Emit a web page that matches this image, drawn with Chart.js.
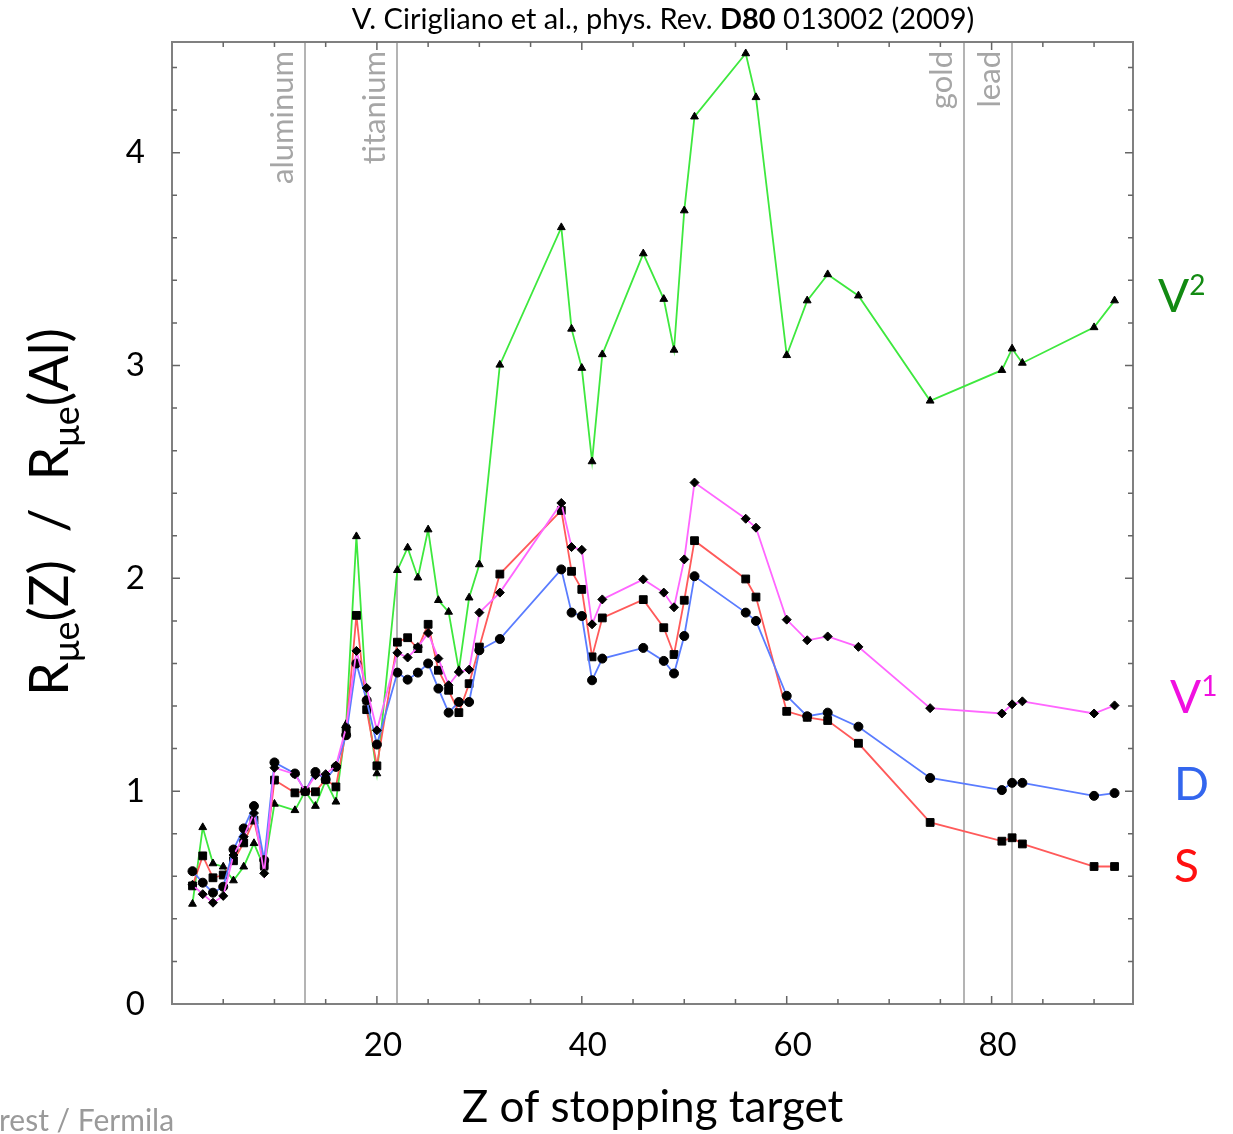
<!DOCTYPE html>
<html lang="en">
<head>
<meta charset="UTF-8">
<title>R_mue(Z) / R_mue(Al)</title>
<script src="https://cdn.jsdelivr.net/npm/chart.js"></script>
<style>
  body { margin: 0; background: #fff; }
  canvas { display: block; }
</style>
</head>
<body>
<canvas id="chart" width="1233" height="1134"></canvas>
<script>
// atomic number of each stopping target
const Z = [2, 3, 4, 5, 6, 7, 8, 9, 10, 12, 13, 14, 15, 16, 17, 18, 19, 20, 22, 23, 24, 25, 26, 27, 28, 29, 30, 32,
           38, 39, 40, 41, 42, 46, 48, 49, 50, 51, 56, 57, 60, 62, 64, 67, 74, 81, 82, 83, 90, 92];

// conversion rate ratio R(Z)/R(Al) for each operator model
const V2 = [0.47, 0.83, 0.66, 0.645, 0.58, 0.645, 0.755, 0.64, 0.94, 0.91, 1.0, 0.93, 1.05, 0.95, 1.315, 2.197, 1.42, 1.083,
            2.038, 2.144, 2.003, 2.229, 1.897, 1.842, 1.568, 1.909, 2.065, 3.003,
            3.649, 3.172, 2.988, 2.549, 3.052, 3.526, 3.312, 3.073, 3.728, 4.169, 4.466, 4.26, 3.048, 3.305, 3.428, 3.328,
            2.834, 2.978, 3.079, 3.012, 3.179, 3.305];
const V1 = [0.56, 0.516, 0.476, 0.508, 0.70, 0.786, 0.897, 0.614, 1.11, 1.08, 1.0, 1.075, 1.08, 1.12, 1.30, 1.659, 1.485, 1.286,
            1.65, 1.628, 1.677, 1.743, 1.623, 1.498, 1.56, 1.571, 1.839, 1.933,
            2.354, 2.147, 2.134, 1.784, 1.901, 1.995, 1.933, 1.864, 2.089, 2.45, 2.28, 2.238, 1.806, 1.709, 1.727, 1.678,
            1.39, 1.365, 1.408, 1.422, 1.365, 1.403];
const D  = [0.624, 0.57, 0.523, 0.551, 0.726, 0.825, 0.93, 0.676, 1.135, 1.083, 1.0, 1.09, 1.055, 1.114, 1.263, 1.60, 1.427, 1.219,
            1.557, 1.524, 1.557, 1.60, 1.482, 1.369, 1.419, 1.419, 1.662, 1.715,
            2.042, 1.839, 1.823, 1.521, 1.623, 1.673, 1.612, 1.553, 1.729, 2.01, 1.839, 1.80, 1.448, 1.352, 1.369, 1.303,
            1.062, 1.005, 1.039, 1.039, 0.978, 0.991];
const S  = [0.555, 0.696, 0.593, 0.606, 0.673, 0.757, 0.864, 0.653, 1.052, 0.992, 1.0, 0.997, 1.056, 1.02, 1.286, 1.826, 1.383, 1.119,
            1.70, 1.721, 1.67, 1.784, 1.568, 1.474, 1.369, 1.505, 1.677, 2.02,
            2.319, 2.033, 1.948, 1.631, 1.814, 1.90, 1.768, 1.642, 1.897, 2.177, 1.997, 1.912, 1.375, 1.347, 1.332, 1.225,
            0.853, 0.765, 0.781, 0.752, 0.646, 0.646];

const xTicks = [20, 40, 60, 80];
const yTicks = [0, 1, 2, 3, 4];

// reference targets marked with vertical lines
const targetNames = ['aluminum', 'titanium', 'gold', 'lead'];
const targetZ = [13, 22, 77.3, 82];

const FONT = 'Lato, "Open Sans", sans-serif';

function series(values) {
  return values.map((v, i) => ({ x: Z[i], y: v }));
}

function line(label, values, color, style, radius) {
  return {
    label,
    data: series(values),
    borderColor: color,
    borderWidth: 1.8,
    pointStyle: style,
    pointRadius: radius,
    pointBackgroundColor: '#000',
    pointBorderColor: '#000',
    pointBorderWidth: 1,
    tension: 0
  };
}

// text runs with sub/superscripts, laid out along one baseline
function richWidth(ctx, parts) {
  let w = 0;
  parts.forEach(p => {
    ctx.font = (p.bold ? 'bold ' : '') + p.size + 'px ' + FONT;
    w += ctx.measureText(p.t).width;
  });
  return w;
}
function drawRich(ctx, parts, x, y) {
  parts.forEach(p => {
    ctx.font = (p.bold ? 'bold ' : '') + p.size + 'px ' + FONT;
    ctx.fillText(p.t, x, y + (p.dy || 0));
    x += ctx.measureText(p.t).width;
  });
}

const decor = {
  id: 'decor',
  beforeDatasetsDraw(chart) {
    const { ctx, chartArea: a, scales: { x } } = chart;
    ctx.save();
    ctx.strokeStyle = '#b4b4b4';
    ctx.lineWidth = 2;
    ctx.fillStyle = '#a6a6a6';
    ctx.font = '31px ' + FONT;
    ctx.textAlign = 'right';
    ctx.textBaseline = 'alphabetic';
    targetNames.forEach((name, i) => {
      const px = Math.round(x.getPixelForValue(targetZ[i]));
      ctx.beginPath();
      ctx.moveTo(px, a.top);
      ctx.lineTo(px, a.bottom);
      ctx.stroke();
      ctx.save();
      ctx.translate(px - 12, a.top + 9);
      ctx.rotate(-Math.PI / 2);
      ctx.fillText(name, 0, 0);
      ctx.restore();
    });
    ctx.restore();
  },
  afterDraw(chart) {
    const { ctx, chartArea: a, scales: { x, y } } = chart;
    ctx.save();

    // frame
    ctx.strokeStyle = '#808080';
    ctx.lineWidth = 2;
    ctx.strokeRect(a.left, a.top, a.right - a.left, a.bottom - a.top);

    // inward tick marks on all four sides
    ctx.strokeStyle = '#666';
    ctx.lineWidth = 1.5;
    ctx.beginPath();
    for (let v = 5; v < x.max; v += 5) {
      const px = x.getPixelForValue(v);
      const len = v % 20 === 0 ? 8 : 5;
      ctx.moveTo(px, a.bottom); ctx.lineTo(px, a.bottom - len);
      ctx.moveTo(px, a.top); ctx.lineTo(px, a.top + len);
    }
    for (let k = 1; k * 0.2 < y.max; k++) {
      const py = y.getPixelForValue(k * 0.2);
      const len = k % 5 === 0 ? 8 : 5;
      ctx.moveTo(a.left, py); ctx.lineTo(a.left + len, py);
      ctx.moveTo(a.right, py); ctx.lineTo(a.right - len, py);
    }
    ctx.stroke();

    // citation above the plot
    ctx.fillStyle = '#000';
    ctx.textBaseline = 'alphabetic';
    ctx.textAlign = 'left';
    const cite = [
      { t: 'V. Cirigliano et al., phys. Rev. ', size: 29 },
      { t: 'D80', size: 29, bold: true },
      { t: ' 013002 (2009)', size: 29 }
    ];
    drawRich(ctx, cite, 663 - richWidth(ctx, cite) / 2, 29);

    // vertical axis title with subscripts
    const yTitle = [
      { t: 'R', size: 54 }, { t: 'μe', size: 36, dy: 11 }, { t: '(Z)  /  R', size: 54 },
      { t: 'μe', size: 36, dy: 11 }, { t: '(Al)', size: 54 }
    ];
    ctx.save();
    ctx.translate(68, 512);
    ctx.rotate(-Math.PI / 2);
    drawRich(ctx, yTitle, -richWidth(ctx, yTitle) / 2, 0);
    ctx.restore();

    // model names at the right edge
    const names = [
      { parts: [{ t: 'V', size: 46 }, { t: '2', size: 28, dy: -17 }], color: '#128a12', x: 1158, y: 312 },
      { parts: [{ t: 'V', size: 46 }, { t: '1', size: 28, dy: -17 }], color: '#f010e0', x: 1170, y: 713 },
      { parts: [{ t: 'D', size: 46 }], color: '#3366ee', x: 1174, y: 800 },
      { parts: [{ t: 'S', size: 46 }], color: '#ff1010', x: 1174, y: 882 }
    ];
    names.forEach(n => {
      ctx.fillStyle = n.color;
      drawRich(ctx, n.parts, n.x, n.y);
    });

    // slide footer, clipped at the left edge
    ctx.fillStyle = '#9a9a9a';
    ctx.font = '30px ' + FONT;
    ctx.fillText('rest / Fermila', -1, 1131);

    ctx.restore();
  }
};

const ctx = document.getElementById('chart').getContext('2d');

new Chart(ctx, {
  type: 'line',
  data: {
    datasets: [
      line('V1', V1, '#ff66ff', 'rectRot', 4.5),
      line('D', D, '#5a7cff', 'circle', 4.5),
      line('S', S, '#ff5a5a', 'rect', 5.5),
      line('V2', V2, '#3ee83e', 'triangle', 4.5)
    ]
  },
  options: {
    responsive: false,
    animation: false,
    layout: { padding: { left: 0, right: 100, top: 42, bottom: 0 } },
    plugins: {
      legend: { display: false },
      tooltip: { enabled: false }
    },
    scales: {
      x: {
        type: 'linear',
        min: 0,
        max: 93.8,
        grid: { display: false, drawTicks: false },
        border: { display: false },
        afterBuildTicks: s => { s.ticks = xTicks.map(v => ({ value: v })); },
        afterFit: s => { s.height = 130; s.paddingLeft = 0; s.paddingRight = 0; },
        ticks: {
          font: { family: FONT, size: 33 },
          color: '#000',
          padding: 22,
          labelOffset: 6,
          maxRotation: 0,
          autoSkip: false
        },
        title: {
          display: true,
          text: 'Z of stopping target',
          font: { family: FONT, size: 44 },
          color: '#000',
          padding: { top: 0, bottom: 0 }
        }
      },
      y: {
        type: 'linear',
        min: 0,
        max: 4.52,
        grid: { display: false, drawTicks: false },
        border: { display: false },
        afterBuildTicks: s => { s.ticks = yTicks.map(v => ({ value: v })); },
        afterFit: s => { s.width = 172; s.paddingTop = 0; s.paddingBottom = 0; },
        ticks: {
          font: { family: FONT, size: 33 },
          color: '#000',
          padding: 27,
          autoSkip: false
        }
      }
    }
  },
  plugins: [decor]
});
</script>
</body>
</html>
